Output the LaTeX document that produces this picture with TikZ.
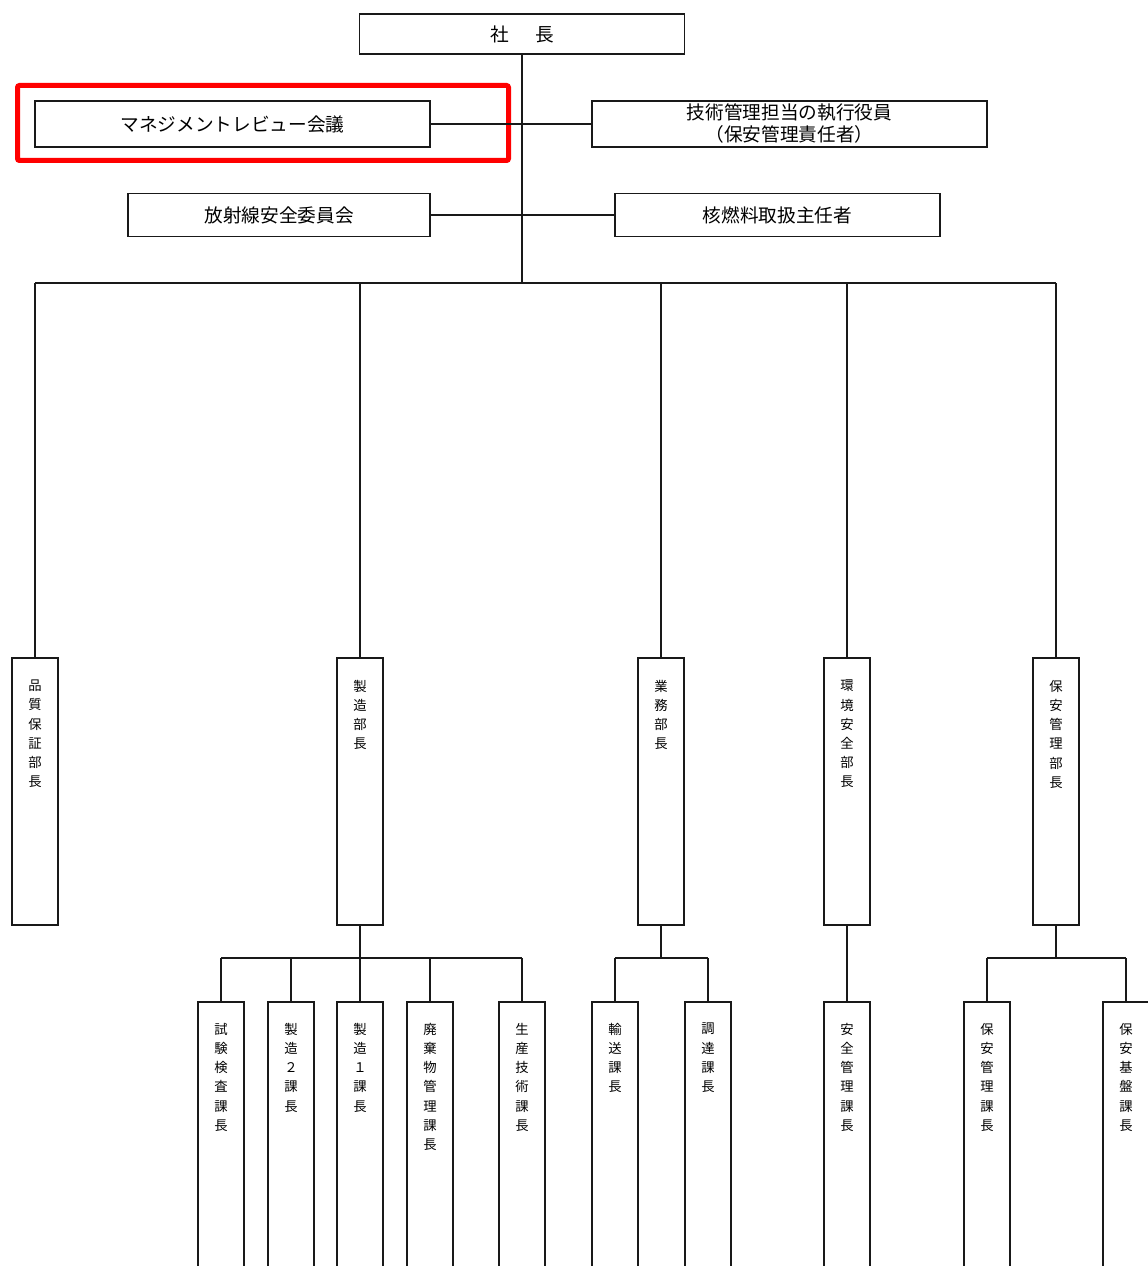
\documentclass[tikz,border=0pt]{standalone}
\usepackage{fontspec}
\newfontfamily\cjk{Noto Sans CJK JP}
\begin{document}
\begin{tikzpicture}[x=0.75pt,y=-0.75pt,
  box/.style={draw=black!90, line width=1.3pt, inner sep=0pt, fill=white},
  hbox/.style={box, font=\cjk\fontsize{14}{16.5}\selectfont, align=center},
  dept/.style={box, minimum width=34.5pt, minimum height=200.25pt},
  sect/.style={box, minimum width=34.5pt, minimum height=225pt},
  vtext/.style={font=\cjk\fontsize{10}{14.4}\selectfont, align=center, inner sep=0pt, anchor=north},
  conn/.style={draw=black!90, line width=1pt},
  highlight/.style={draw=red, line width=3.75pt, rounded corners=1.5pt}]

\useasboundingbox (0,0) rectangle (1148,1266);
\fill[white] (0,0) rectangle (1148,1266);
\clip (0,0) rectangle (1148,1266);

% top level
\node[hbox, minimum width=243.75pt, minimum height=30pt] (pres) at (522,34) {社\hspace{20pt}長};
\node[hbox, minimum width=296.25pt, minimum height=34.5pt] (mr) at (232.5,124) {マネジメントレビュー会議};
\node[hbox, minimum width=296.25pt, minimum height=34.5pt] (exec) at (789.5,124) {技術管理担当の執行役員\\（保安管理責任者）};
\node[hbox, minimum width=226.5pt, minimum height=32.25pt] (rad) at (279,215) {放射線安全委員会};
\node[hbox, minimum width=243.75pt, minimum height=32.25pt] (fuel) at (777.5,215) {核燃料取扱主任者};

\draw[highlight] (17.5,85.5) rectangle (508.5,160.5);

\coordinate (j0) at (522,283);
\draw[conn] (pres.south) -- (j0);
\draw[conn] (mr.east) -- (exec.west);
\draw[conn] (rad.east) -- (fuel.west);

% departments
\node[dept] (d1) at (35,791.5) {};
\node[dept] (d2) at (360,791.5) {};
\node[dept] (d3) at (661,791.5) {};
\node[dept] (d4) at (847,791.5) {};
\node[dept] (d5) at (1056,791.5) {};
\node[vtext] (d1t) at ([yshift=-17pt]d1.north) {品\\質\\保\\証\\部\\長};
\node[vtext] (d2t) at ([yshift=-17pt]d2.north) {製\\造\\部\\長};
\node[vtext] (d3t) at ([yshift=-17pt]d3.north) {業\\務\\部\\長};
\node[vtext] (d4t) at ([yshift=-17pt]d4.north) {環\\境\\安\\全\\部\\長};
\node[vtext] (d5t) at ([yshift=-17pt]d5.north) {保\\安\\管\\理\\部\\長};

\draw[conn] (d1.north |- j0) -- (d5.north |- j0);
\foreach \d in {d1,d2,d3,d4,d5} \draw[conn] (\d.north |- j0) -- (\d.north);

% sections
\node[sect] (s1) at (221,1152) {};
\node[sect] (s2) at (291,1152) {};
\node[sect] (s3) at (360,1152) {};
\node[sect] (s4) at (430,1152) {};
\node[sect] (s5) at (522,1152) {};
\node[sect] (g1) at (615,1152) {};
\node[sect] (g2) at (708,1152) {};
\node[sect] (e1) at (847,1152) {};
\node[sect] (h1) at (987,1152) {};
\node[sect] (h2) at (1126,1152) {};
\node[vtext] (s1t) at ([yshift=-16.25pt]s1.north) {試\\験\\検\\査\\課\\長};
\node[vtext] (s2t) at ([yshift=-16.25pt]s2.north) {製\\造\\２\\課\\長};
\node[vtext] (s3t) at ([yshift=-16.25pt]s3.north) {製\\造\\１\\課\\長};
\node[vtext] (s4t) at ([yshift=-16.25pt]s4.north) {廃\\棄\\物\\管\\理\\課\\長};
\node[vtext] (s5t) at ([yshift=-16.25pt]s5.north) {生\\産\\技\\術\\課\\長};
\node[vtext] (g1t) at ([yshift=-16.25pt]g1.north) {輸\\送\\課\\長};
\node[vtext] (g2t) at ([yshift=-16.25pt]g2.north) {調\\達\\課\\長};
\node[vtext] (e1t) at ([yshift=-16.25pt]e1.north) {安\\全\\管\\理\\課\\長};
\node[vtext] (h1t) at ([yshift=-16.25pt]h1.north) {保\\安\\管\\理\\課\\長};
\node[vtext] (h2t) at ([yshift=-16.25pt]h2.north) {保\\安\\基\\盤\\課\\長};

% manufacturing branch
\coordinate (jm) at (360,958);
\draw[conn] (d2.south) -- (jm);
\draw[conn] (s1.north |- jm) -- (s5.north |- jm);
\foreach \s in {s1,s2,s3,s4,s5} \draw[conn] (\s.north |- jm) -- (\s.north);

% business branch
\coordinate (jg) at (661,958);
\draw[conn] (d3.south) -- (jg);
\draw[conn] (g1.north |- jg) -- (g2.north |- jg);
\foreach \s in {g1,g2} \draw[conn] (\s.north |- jg) -- (\s.north);

% environment branch
\draw[conn] (d4.south) -- (e1.north);

% security branch
\coordinate (jh) at (1056,958);
\draw[conn] (d5.south) -- (jh);
\draw[conn] (h1.north |- jh) -- (h2.north |- jh);
\foreach \s in {h1,h2} \draw[conn] (\s.north |- jh) -- (\s.north);
\end{tikzpicture}
\end{document}
